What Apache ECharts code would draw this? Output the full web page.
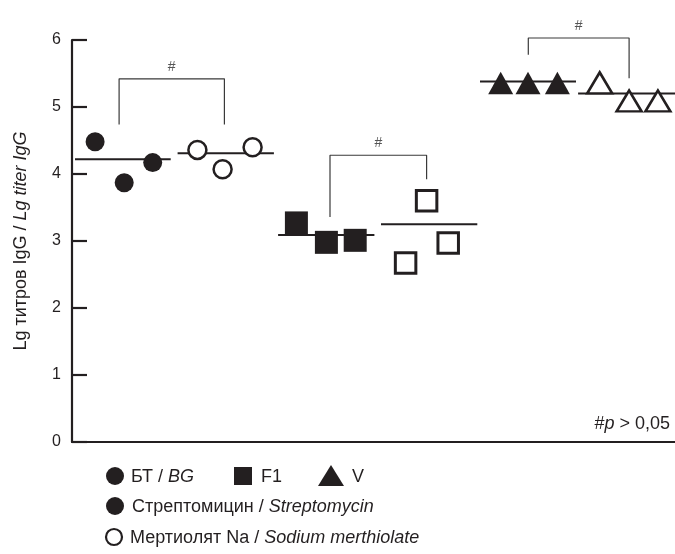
<!DOCTYPE html>
<html>
<head>
<meta charset="utf-8">
<script src="https://cdn.jsdelivr.net/npm/echarts@6/dist/echarts.min.js"></script>
<style>
html,body{margin:0;padding:0;background:#fff;}
#chart{width:675px;height:554px;}
</style>
</head>
<body>
<div id="chart"></div>
<script>
// ---- axis ----
const yMin = 0, yMax = 6, yStep = 1;
const xMin = 0, xMax = 20.1;
const yAxisName = ['Lg титров IgG / ', 'Lg titer IgG'];

// ---- points (x slot, Lg titer) ----
const bgStrepX = [0.77, 1.74, 2.69];
const bgStrepY = [4.48, 3.87, 4.17];
const bgMertX = [4.18, 5.02, 6.02];
const bgMertY = [4.36, 4.07, 4.40];
const f1StrepX = [7.48, 8.48, 9.44];
const f1StrepY = [3.27, 2.98, 3.01];
const f1MertX = [11.12, 11.82, 12.54];
const f1MertY = [2.67, 3.60, 2.97];
const vStrepX = [14.29, 15.20, 16.18];
const vStrepY = [5.36, 5.36, 5.36];
const vMertX = [17.59, 18.57, 19.53];
const vMertY = [5.36, 5.09, 5.09];

// ---- group mean lines ----
const meanValues = [4.22, 4.31, 3.09, 3.25, 5.38, 5.20];
const meanStartX = [0.1, 3.52, 6.87, 10.3, 13.6, 16.87];
const meanEndX = [3.29, 6.73, 10.08, 13.51, 16.8, 20.1];

// ---- significance brackets ----
const bracketLeftX = [1.57, 8.6, 15.21];
const bracketRightX = [5.08, 11.82, 18.57];
const bracketTopY = [5.42, 4.28, 6.03];
const bracketLeftEndY = [4.74, 3.36, 5.78];
const bracketRightEndY = [4.74, 3.92, 5.43];
const bracketMark = '#';
const pNote = ['#', 'p', ' > 0,05'];

// ---- legend texts ----
const legendStrains = [['БТ / ', 'BG'], ['F1', ''], ['V', '']];
const legendStrep = ['Стрептомицин / ', 'Streptomycin'];
const legendMert = ['Мертиолят Na / ', 'Sodium merthiolate'];

const INK = '#231f20';
const FONT = '"Liberation Sans", Arial, sans-serif';
const FS = 18;

const zip = (xs, ys) => xs.map((x, i) => [x, ys[i]]);

const filled = { color: INK, opacity: 1 };
const open = { color: '#fff', borderColor: INK, borderWidth: 2.5, opacity: 1 };

const pointSeries = [
  { data: zip(bgStrepX, bgStrepY), symbol: 'circle', symbolSize: 19, itemStyle: filled },
  { data: zip(bgMertX, bgMertY), symbol: 'circle', symbolSize: 18, itemStyle: open },
  { data: zip(f1StrepX, f1StrepY), symbol: 'rect', symbolSize: 23, itemStyle: filled },
  { data: zip(f1MertX, f1MertY), symbol: 'rect', symbolSize: 20.5, itemStyle: Object.assign({}, open, { borderWidth: 3 }) },
  { data: zip(vStrepX, vStrepY), symbol: 'triangle', symbolSize: [25, 22.5], itemStyle: filled },
  { data: zip(vMertX, vMertY), symbol: 'triangle', symbolSize: [25, 21], itemStyle: open }
].map(s => Object.assign({ type: 'scatter', z: 5, clip: false, silent: true }, s));

const meanSeries = meanValues.map((m, i) => ({
  type: 'line', z: 3, silent: true, clip: false, symbol: 'none',
  lineStyle: { color: INK, width: 2 },
  data: [[meanStartX[i], m], [meanEndX[i], m]]
}));

const bracketSeries = bracketTopY.map((t, i) => ({
  type: 'line', z: 2, silent: true, clip: false, symbol: 'none',
  lineStyle: { color: '#3a3a3a', width: 1.2 },
  data: [[bracketLeftX[i], bracketLeftEndY[i]], [bracketLeftX[i], t],
         [bracketRightX[i], t], [bracketRightX[i], bracketRightEndY[i]]]
}));

const markSeries = {
  type: 'scatter', silent: true, clip: false, symbolSize: 0,
  data: bracketTopY.map((t, i) => [(bracketLeftX[i] + bracketRightX[i]) / 2, t]),
  label: { show: true, position: 'top', distance: 5, formatter: bracketMark,
           color: '#2a2a2a', fontSize: 14, fontFamily: FONT }
};

const rich = {
  a: { fontSize: FS, fontFamily: FONT, fill: INK, color: INK },
  b: { fontSize: FS, fontFamily: FONT, fill: INK, color: INK, fontStyle: 'italic' }
};
const textEl = (x, y, parts) => ({
  type: 'text', x: x, y: y,
  style: { text: '{a|' + parts[0] + '}' + (parts[1] ? '{b|' + parts[1] + '}' : ''),
           rich: rich, verticalAlign: 'middle', align: 'left', font: FS + 'px ' + FONT, fill: INK }
});

const legendGraphic = [
  { type: 'circle', shape: { cx: 115, cy: 476, r: 9 }, style: { fill: INK } },
  textEl(131, 477, legendStrains[0]),
  { type: 'rect', shape: { x: 234, y: 467, width: 18, height: 18 }, style: { fill: INK } },
  textEl(261, 477, legendStrains[1]),
  { type: 'polygon', shape: { points: [[331, 465], [318, 486], [344, 486]] }, style: { fill: INK } },
  textEl(352, 477, legendStrains[2]),
  { type: 'circle', shape: { cx: 115, cy: 506, r: 9 }, style: { fill: INK } },
  textEl(132, 507, legendStrep),
  { type: 'circle', shape: { cx: 114, cy: 537, r: 8 }, style: { fill: '#fff', stroke: INK, lineWidth: 2.2 } },
  textEl(130, 538, legendMert),
  { type: 'text', x: 670, y: 424,
    style: { text: '{a|' + pNote[0] + '}{b|' + pNote[1] + '}{a|' + pNote[2] + '}', rich: rich,
             align: 'right', verticalAlign: 'middle', font: FS + 'px ' + FONT, fill: INK } }
];

const chart = echarts.init(document.getElementById('chart'), null, { renderer: 'canvas' });
chart.setOption({
  animation: false,
  backgroundColor: '#fff',
  grid: { left: 72, right: 0, top: 40, bottom: 112, containLabel: false },
  xAxis: {
    type: 'value', min: xMin, max: xMax,
    axisLine: { show: true, onZero: false, lineStyle: { color: INK, width: 2.2 } },
    axisTick: { show: false }, axisLabel: { show: false }, splitLine: { show: false }
  },
  yAxis: {
    type: 'value', min: yMin, max: yMax, interval: yStep,
    name: '{a|' + yAxisName[0] + '}{b|' + yAxisName[1] + '}',
    nameLocation: 'middle', nameRotate: 90, nameGap: 42,
    nameTextStyle: { rich: {
      a: { fontSize: FS, fontFamily: FONT, color: INK },
      b: { fontSize: FS, fontFamily: FONT, color: INK, fontStyle: 'italic' } } },
    axisLine: { show: true, lineStyle: { color: INK, width: 2.2 } },
    axisTick: { show: true, inside: true, length: 15, lineStyle: { color: INK, width: 2.2 } },
    axisLabel: { color: INK, fontSize: 16, fontFamily: FONT, margin: 11 },
    splitLine: { show: false }
  },
  graphic: legendGraphic,
  series: [].concat(bracketSeries, meanSeries, pointSeries, [markSeries])
});
</script>
</body>
</html>
